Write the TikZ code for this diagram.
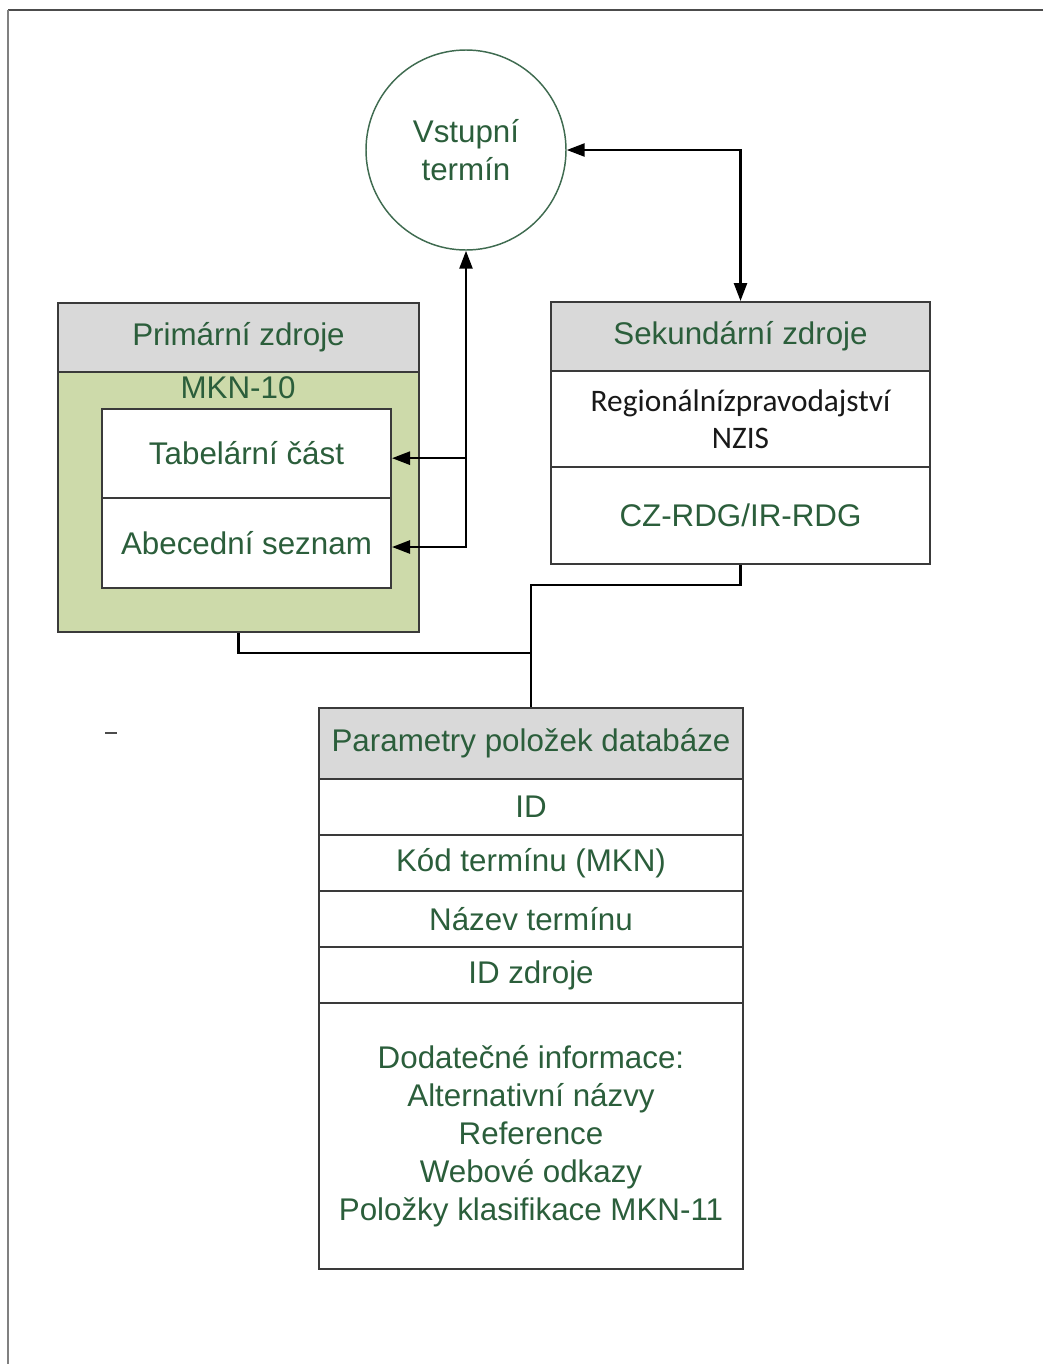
\documentclass[tikz,border=0pt]{standalone}
\usepackage{fontspec}
\setmainfont{Liberation Sans}
\newfontfamily\calib{Carlito}
\usetikzlibrary{arrows.meta}
\newdimen\px \px=0.75pt
\definecolor{txtgreen}{HTML}{2B5E3B}
\definecolor{circgreen}{HTML}{3F6B50}
\definecolor{hdrgray}{HTML}{D9D9D9}
\definecolor{bodygreen}{HTML}{CDDAAA}
\definecolor{boxline}{HTML}{3A3A3A}
\tikzset{
  cell/.style={draw=boxline, line width=1.5pt, rectangle, inner sep=0pt, align=center,
    text=txtgreen, font=\fontsize{23.5}{28.5}\selectfont},
  hdr/.style={cell, fill=hdrgray},
  conn/.style={draw=black, line width=1.9pt},
  tip/.style={-{Triangle[length=13.5pt,width=9.75pt]}},
  tips/.style={{Triangle[length=13.5pt,width=9.75pt]}-{Triangle[length=13.5pt,width=9.75pt]}},
}
\begin{document}
\begin{tikzpicture}[x=0.75pt,y=-0.75pt]
\useasboundingbox (0,0) rectangle (1043,1364);
% frame
\draw[draw=black!70, line width=2.2pt] (1043,10) -- (8,10);
\draw[draw=black!50, line width=1.1pt] (8,10) -- (8,1364);

% input term
\node[circle, draw=circgreen, line width=1.1pt, minimum size=200\px, inner sep=0pt,
  align=center, text=txtgreen, font=\fontsize{23.5}{28}\selectfont] (vt) at (466,150) {Vstupní\\termín};

% primary sources
\node[hdr, minimum width=361\px, minimum height=69\px] (lhead) at (238.5,337.5) {Primární zdroje};
\node[cell, fill=bodygreen, minimum width=361\px, minimum height=260\px] (lbody) at (238.5,502) {};
\node[text=txtgreen, font=\fontsize{23.5}{28.5}\selectfont, inner sep=0pt] (mkn) at (238,388) {MKN-10};
\node[cell, fill=white, minimum width=289\px, minimum height=89\px] (tab) at (246.5,453.5) {Tabelární část};
\node[cell, fill=white, minimum width=289\px, minimum height=90\px] (abc) at (246.5,543) {Abecední seznam};

% secondary sources
\node[hdr, minimum width=379\px, minimum height=69\px] (rhead) at (740.5,336.5) {Sekundární zdroje};
\node[cell, fill=white, minimum width=379\px, minimum height=96\px, text=black!90,
  font=\calib\fontsize{23.5}{28}\selectfont] (rreg) at (740.5,419) {Regionálnízpravodajství\\NZIS};
\node[cell, fill=white, minimum width=379\px, minimum height=97\px] (rcz) at (740.5,515.5) {CZ-RDG/IR-RDG};

% database parameters
\node[hdr, minimum width=424\px, minimum height=71\px] (bhead) at (531,743.5) {Parametry položek databáze};
\node[cell, minimum width=424\px, minimum height=56\px] (bid) at (531,807) {ID};
\node[cell, minimum width=424\px, minimum height=56\px] (bkod) at (531,863) {Kód termínu (MKN)};
\node[cell, minimum width=424\px, minimum height=56\px] (bnaz) at (531,919) {Název termínu};
\node[cell, minimum width=424\px, minimum height=56\px] (bidz) at (531,975) {ID zdroje};
\node[cell, minimum width=424\px, minimum height=266\px, font=\fontsize{23.5}{28.6}\selectfont] (binfo) at (531,1136)
  {Dodatečné informace:\\Alternativní názvy\\Reference\\Webové odkazy\\Položky klasifikace MKN-11};

% stray mark
\draw[draw=black!70, line width=1.5pt] (105,733) -- (117,733);

% connectors
\draw[conn, tips] ([yshift=-3pt]abc.east) -| (vt.south);
\draw[conn, tip] ([yshift=-3.5pt]tab.east -| vt.south) -- ([yshift=-3.5pt]tab.east);
\draw[conn, tips] (vt.east) -| (rhead.north);
\draw[conn] (rcz.south) -- ++(0,20) -| (bhead.north);
\draw[conn] (lbody.south) -- ++(0,20) -| (bhead.north);
\end{tikzpicture}
\end{document}
